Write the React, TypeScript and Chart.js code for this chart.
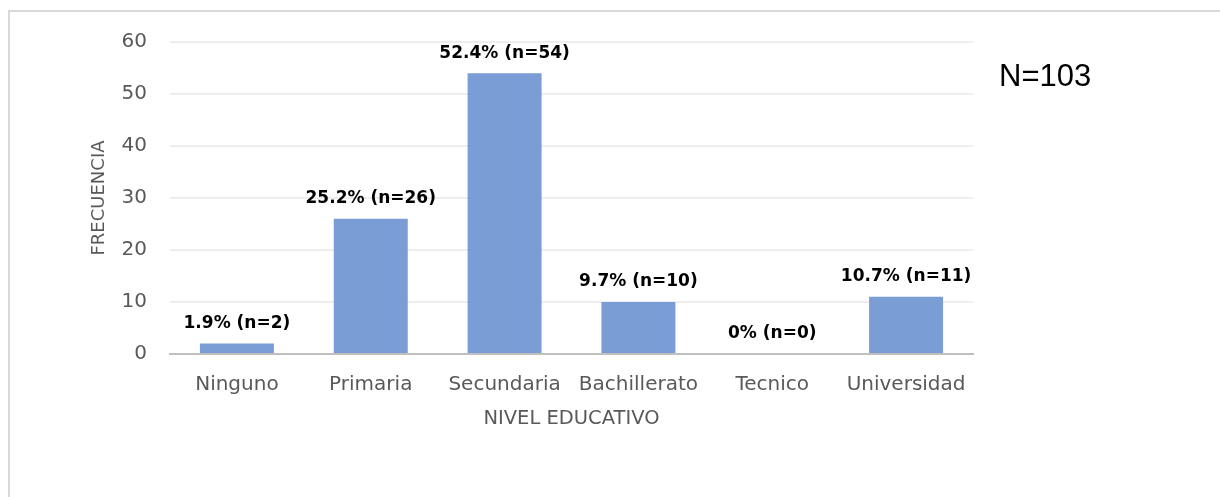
import React, { useEffect, useRef } from 'react';
import { Chart, registerables } from 'chart.js';

Chart.register(...registerables);

const categories = ['Ninguno', 'Primaria', 'Secundaria', 'Bachillerato', 'Tecnico', 'Universidad'];
const frequencies = [2, 26, 54, 10, 0, 11];
const percentLabels = ['1.9%', '25.2%', '52.4%', '9.7%', '0%', '10.7%'];
const yTicks = [0, 10, 20, 30, 40, 50, 60];
const totalLabel = 'N=103';
const xTitle = 'NIVEL EDUCATIVO';
const yTitle = 'FRECUENCIA';

const AXIS_FONT = '"DejaVu Sans", sans-serif';

const labelsPlugin = {
  id: 'barLabels',
  afterDatasetsDraw(chart: any) {
    const ctx = chart.ctx;
    const meta = chart.getDatasetMeta(0);
    ctx.save();
    ctx.font = `bold 17px ${AXIS_FONT}`;
    ctx.fillStyle = '#000000';
    ctx.textAlign = 'center';
    ctx.textBaseline = 'middle';
    meta.data.forEach((bar: any, i: number) => {
      ctx.fillText(`${percentLabels[i]} (n=${frequencies[i]})`, bar.x, bar.y - 20);
    });
    ctx.font = '31px "Liberation Sans", Arial, sans-serif';
    ctx.textAlign = 'left';
    ctx.fillText(totalLabel, chart.chartArea.right + 26, chart.chartArea.top + 35);
    ctx.restore();
  },
};

export default function App() {
  const ref = useRef<HTMLCanvasElement | null>(null);

  useEffect(() => {
    if (!ref.current) return;
    const chart = new Chart(ref.current, {
      type: 'bar',
      data: {
        labels: categories,
        datasets: [
          {
            data: frequencies,
            backgroundColor: '#7B9DD6',
            borderWidth: 0,
            categoryPercentage: 1,
            barPercentage: 0.553,
          },
        ],
      },
      options: {
        responsive: false,
        animation: false,
        layout: { padding: { left: 79, top: 30, right: 247, bottom: 66 } },
        plugins: {
          legend: { display: false },
          tooltip: { enabled: false },
          title: { display: false },
        },
        scales: {
          x: {
            afterFit: (scale: any) => {
              scale.height = 77;
            },
            grid: { display: false, drawTicks: false },
            border: { display: true, color: '#BFBFBF', width: 2 },
            ticks: {
              color: '#595959',
              font: { family: AXIS_FONT, size: 20 },
              padding: 19,
              maxRotation: 0,
              autoSkip: false,
            },
            title: {
              display: true,
              text: xTitle,
              color: '#595959',
              font: { family: AXIS_FONT, size: 19.5 },
              padding: { top: 13, bottom: 0 },
            },
          },
          y: {
            min: 0,
            max: 60,
            afterBuildTicks: (axis: any) => {
              axis.ticks = yTicks.map((v) => ({ value: v }));
            },
            afterFit: (scale: any) => {
              scale.width = 81;
              scale.paddingTop = 12;
              scale.paddingBottom = 12;
            },
            grid: { color: '#EEEEEE', lineWidth: 2, drawTicks: false },
            border: { display: false },
            ticks: {
              color: '#595959',
              font: { family: AXIS_FONT, size: 20 },
              padding: 23,
            },
            title: {
              display: true,
              text: yTitle,
              color: '#595959',
              font: { family: AXIS_FONT, size: 18 },
              padding: 0,
            },
          },
        },
      },
      plugins: [labelsPlugin],
    });
    return () => chart.destroy();
  }, []);

  return (
    <div
      style={{
        position: 'absolute',
        left: 8,
        top: 10,
        borderTop: '2px solid #D9D9D9',
        borderLeft: '2px solid #D9D9D9',
      }}
    >
      <canvas ref={ref} width={1210} height={485} style={{ display: 'block', width: 1210, height: 485 }} />
    </div>
  );
}
